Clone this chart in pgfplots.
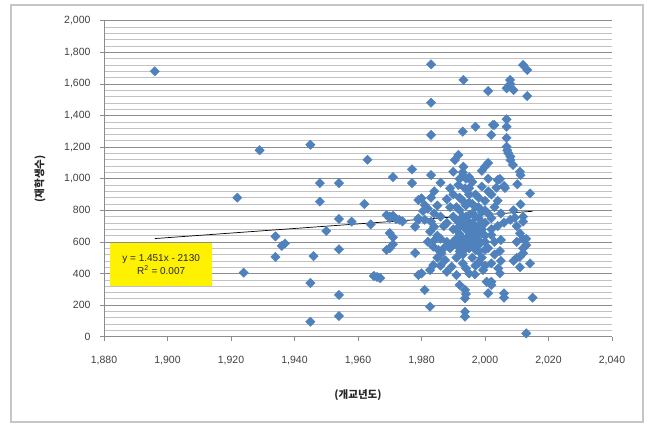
\documentclass[border=0pt]{standalone}
\usepackage{fontspec}
\setmainfont{Liberation Sans}
\newfontfamily\kr{Noto Sans CJK KR}
\usepackage{pgfplots}
\usepackage{pgfplotstable}
\pgfplotsset{compat=1.18}
\definecolor{mk}{HTML}{4F81BD}
\definecolor{majg}{HTML}{8C8C8C}
\definecolor{ming}{HTML}{C2C2C2}
\definecolor{txt}{HTML}{404040}
\pgfplotstableread{
x y
1896 1680
1922 880
1924 405
1929 1180
1934 635
1934 505
1937 590
1936 575
1945 1215
1945 340
1945 95
1946 510
1948 972
1948 855
1950 669
1954 972
1954 745
1954 553
1954 264
1954 131
1958 728
1962 840
1963 1120
1964 711
1965 384
1967 371
1966 378
1969 770
1970 760
1970 750
1971 765
1972 745
1973 740
1974 730
1970 656
1971 630
1969 549
1970 560
1971 585
1971 1010
1977 1059
1977 972
1978 530
1979 865
1979 740
1979 390
1978 696
1979 749
1980 876
1981 834
1980.5 796
1983 728
1984 696
1982.7 665
1982 601
1983.7 570
1985.3 549
1986.3 528
1987.4 485
1983.7 454
1982.7 422
1980 401
1981 296
1982.7 190
1983 1724
1983 1481
1983 1277
1983 1023
1986 975
1985 830
1984 780
1986 760
1987 700
1988 720
1985 640
1986 620
1988 870
1989 820
1988 411
1989.5 443
1988 600
1989 560
1990 1044
1990 760
1990 680
1990 900
1989 940
1987 560
1986 450
1985 500
1984 610
1981 740
1982 810
1983 880
1984 920
1991 390
1992 327
1993.7 296
1993.7 243
1993.7 158
1993.7 127
1994 270
1993 464
1994 433
1995 400
1991 500
1993 520
1995 560
1991 580
1993 580
1992 650
1994 620
1996 600
1998 610
2000 640
1997 580
1996 500
1998 470
2000 450
1999 500
1997 549
2000 601
1999 654
2001 560
1992 800
1993 860
1995 900
1991.6 960
1993.7 939
1991.6 1150
1990.5 1118
1993.2 1076
1993.2 1625
1993 1298
1997 1329
1995 1010
1993 1040
1996 980
1994 760
1995 720
1997 700
1999 680
1993 700
1991 740
1995 850
1994 830
1997 820
1999 790
1998 750
1996 780
1998 820
1997 900
1999 950
1992 880
1991 820
1996 680
1994 680
1992 720
1996 640
1998 540
1994 560
1992 600
1996.8 395
1999.4 422
1997 450
1999 1050
1998 880
1996 840
1995 940
1994 1000
1992 1000
1995 770
1997 760
1993 760
1991 680
1998 680
1999 720
1995 640
1997 640
1993 620
1991 620
1994 720
1996 720
1992 540
1990 600
1994 600
1998 580
2000 1076
2001 1100
2001 1555
2001 1000
2002 1277
2002.5 1340
2003 1340
2000 860
2000 800
2001 780
2003 820
2002 900
2001 920
2002 680
2000 720
2003 600
2000.5 348
2002 327
2001.6 338
2002 464
2001 275
2000 550
2002 750
2004.7 998
2003.6 943
2006.3 941
2004 992
2002 644
2005 612
2004.7 542
2004.2 433
2004.7 401
2002 348
2006 275
2006 247
2006 722
2004 700
2005 780
2003 520
2005 480
2004 860
2006 954
2006.8 1572
2007.9 1625
2009 1561
2006.8 1376
2006.8 1329
2006.8 1258
2006.8 1203
2007.3 1162
2008 1118
2008.8 1087
2008 1140
2007 1180
2008 1600
2008 1580
2010.2 965
2011.2 1023
2011 1044
2014.2 907
2011.2 838
2009.4 753
2012 728
2011 654
2010 700
2012 528
2011 506
2014.2 464
2010 600
2012 560
2013 620
2015 247
2013 21
2012 1720
2013.3 1688
2013.3 1523
2012 760
2013 580
2011 440
2009 800
2010 500
2012 620
2008 740
2009 480
}\schools
\begin{document}
\begin{tikzpicture}[x=1pt,y=1pt]
\path[use as bounding box] (-104,-87.3) rectangle (544,336.7);
\draw[draw=gray!45, line width=1.3pt, fill=white] (-93,-85.3) rectangle (539,331.7);
\begin{axis}[
  at={(0,0)}, anchor=south west, scale only axis,
  width=508pt, height=316pt,
  xmin=1880, xmax=2040, ymin=0, ymax=2000,
  xtick={1880,1900,...,2040}, ytick={0,200,...,2000},
  minor y tick num=4,
  axis x line*=bottom, axis y line*=left,
  axis line style={majg, line width=0.8pt},
  ymajorgrids, yminorgrids,
  major grid style={majg, line width=0.7pt},
  minor grid style={ming, line width=0.6pt},
  tick style={majg, line width=0.7pt},
  major tick length=4pt, minor tick length=0pt,
  tick align=outside,
  ticklabel style={font=\fontsize{10.5}{12}\selectfont, text=txt},
  xticklabel style={yshift=-12pt},
  yticklabel style={xshift=-6pt},
  /pgf/number format/assume math mode=true,
  /pgf/number format/1000 sep={,},
  scaled ticks=false,
  clip=false,
]
\addplot[only marks, mark=square*, mark size=3.3pt, mark options={rotate=45, fill=mk, draw=mk}] table[x=x,y=y] {\schools};
\addplot[black, line width=0.7pt] coordinates {(1896,621.1) (2015,793.8)};
\node[fill=yellow, inner sep=1pt, minimum width=102pt, minimum height=43pt, align=center, font=\fontsize{10}{12.5}\selectfont, text=black!85] at (axis cs:1898,457) {y = 1.451x - 2130\\R\textsuperscript{2} = 0.007};
\node[yshift=-58pt, font=\fontsize{10.5}{12}\selectfont, text=black!85] at (rel axis cs:0.5,0) {\kr\bfseries (개교년도)};
\node[xshift=-64pt, rotate=90, font=\fontsize{10.5}{12}\selectfont, text=black!85] at (rel axis cs:0,0.5) {\kr\bfseries (재학생수)};
\end{axis}
\end{tikzpicture}
\end{document}
